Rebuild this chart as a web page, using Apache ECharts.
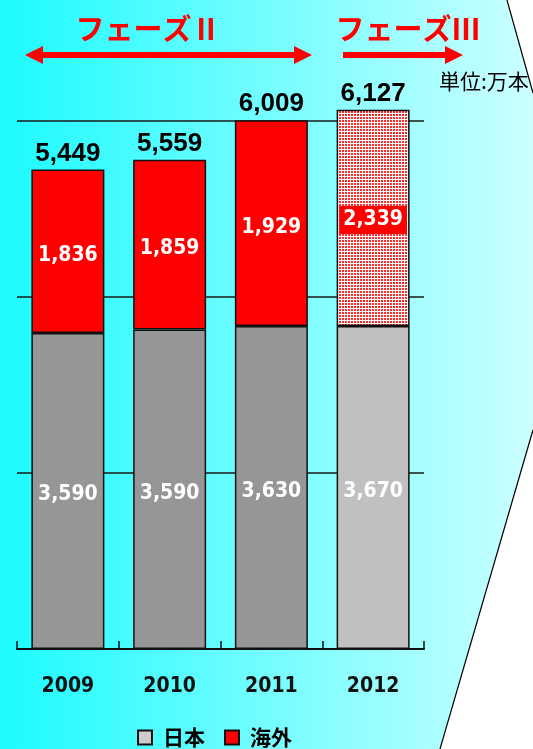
<!DOCTYPE html>
<html><head><meta charset="utf-8">
<script src="https://cdn.jsdelivr.net/npm/echarts@6/dist/echarts.min.js"></script>
<style>html,body{margin:0;padding:0;background:#fff;}#c{width:533px;height:749px;}</style>
</head><body><div id="c"></div>
<script>
// ---- data ----
const years = ['2009', '2010', '2011', '2012'];
const japanValues = [3590, 3630, 3670, 3670];      // bar heights
const overseasValues = [1859, 1929, 2339, 2457];   // bar heights
const japanLabels = ['3,590', '3,590', '3,630', '3,670'];
const overseasLabels = ['1,836', '1,859', '1,929', '2,339'];
const totalLabels = ['5,449', '5,559', '6,009', '6,127'];
const yTicks = [0, 2000, 4000, 6000];
const seriesNames = ['日本', '海外'];
const phaseLabels = ['フェーズⅡ', 'フェーズⅢ'];
const unitLabel = '単位:万本';

// ---- patterns ----
function makePattern(w, h, bg, fg, rects) {
  const c = document.createElement('canvas');
  c.width = w; c.height = h;
  const g = c.getContext('2d');
  g.fillStyle = bg; g.fillRect(0, 0, w, h);
  g.fillStyle = fg;
  rects.forEach(r => g.fillRect(r[0], r[1], r[2], r[3]));
  return c;
}
const redDots = makePattern(3, 3, '#ffffff', '#ff2a2a', [[0, 0, 2, 2]]);
const grayChecker = makePattern(2, 2, '#ffffff', '#9a9a9a', [[0, 0, 1, 1], [1, 1, 1, 1]]);

const chart = echarts.init(document.getElementById('c'), null, { renderer: 'canvas' });

const inLabel = { color: '#ffffff', fontSize: 21, fontWeight: 'bold', fontFamily: 'DejaVu Sans Condensed', offset: [0, 4] };

const option = {
  animation: false,
  backgroundColor: new echarts.graphic.LinearGradient(0, 0, 1, 0, [
    { offset: 0, color: '#1cfbff' },
    { offset: 1, color: '#ccffff' }
  ]),
  grid: { left: 17, right: 109, top: 121, bottom: 100 },
  legend: {
    data: seriesNames,
    left: 132, top: 722,
    itemWidth: 14, itemHeight: 14, itemGap: 19,
    icon: 'rect',
    textStyle: { fontSize: 21, fontWeight: 'bold', color: '#000', fontFamily: 'Noto Sans CJK JP', padding: [0, 0, 0, 6] }
  },
  xAxis: {
    type: 'category',
    data: years,
    boundaryGap: true,
    axisLine: { show: true, lineStyle: { color: '#111', width: 2 } },
    axisTick: { show: true, interval: 0, alignWithLabel: false, inside: true, length: 8, lineStyle: { color: '#111', width: 1.5 } },
    axisLabel: { margin: 27, color: '#111', fontSize: 21, fontWeight: 'bold', fontFamily: 'DejaVu Sans Condensed' }
  },
  yAxis: {
    type: 'value',
    min: yTicks[0], max: yTicks[yTicks.length - 1], interval: yTicks[1] - yTicks[0],
    axisLine: { show: false }, axisTick: { show: false }, axisLabel: { show: false },
    splitLine: { lineStyle: { color: '#1a1a1a', width: 1.5 } }
  },
  series: [
    {
      name: seriesNames[0], type: 'bar', stack: 's', barWidth: 73, clip: false,
      itemStyle: { color: { image: grayChecker, repeat: 'repeat' }, borderColor: '#111', borderWidth: 1.5 },
      data: japanValues.map((v, i) => ({ value: v, itemStyle: { color: i === 3 ? '#c0c0c0' : '#969696' } })),
      label: Object.assign({ show: true, position: 'inside', formatter: p => japanLabels[p.dataIndex] }, inLabel)
    },
    {
      name: seriesNames[1], type: 'bar', stack: 's', barWidth: 73, clip: false,
      itemStyle: { color: '#ff0000', borderColor: '#111', borderWidth: 1.5 },
      data: overseasValues.map((v, i) => i === 3 ? ({
        value: v,
        itemStyle: { color: { image: redDots, repeat: 'repeat' } },
        label: { backgroundColor: '#ff0000', padding: [4, 4, 3, 4], offset: [0, 2] }
      }) : v),
      label: Object.assign({ show: true, position: 'inside', formatter: p => overseasLabels[p.dataIndex] }, inLabel)
    },
    {
      name: 'total', type: 'bar', stack: 's', barWidth: 73, clip: false,
      itemStyle: { color: 'rgba(0,0,0,0)', borderWidth: 0 },
      data: years.map(() => 0),
      label: { show: true, position: 'top', distance: 3, formatter: p => totalLabels[p.dataIndex],
        color: '#000', fontSize: 26, fontWeight: 'bold', fontFamily: 'Liberation Sans' }
    }
  ],
  graphic: [
    { type: 'polygon', silent: true, shape: { points: [[507, 0], [533, 0], [533, 93]] }, style: { fill: '#fff' } },
    { type: 'polyline', silent: true, shape: { points: [[507, 0], [533, 93]] }, style: { stroke: '#000', lineWidth: 1.2 } },
    { type: 'polygon', silent: true, shape: { points: [[533, 430], [533, 749], [440, 749]] }, style: { fill: '#fff' } },
    { type: 'polyline', silent: true, shape: { points: [[533, 430], [440, 749]] }, style: { stroke: '#000', lineWidth: 1.2 } },
    { type: 'text', silent: true, x: 148, y: 29, style: { text: phaseLabels[0], fill: '#ff0000', align: 'center', verticalAlign: 'middle', font: 'bold 29px "Noto Sans CJK JP"' } },
    { type: 'text', silent: true, x: 408, y: 29, style: { text: phaseLabels[1], fill: '#ff0000', align: 'center', verticalAlign: 'middle', font: 'bold 29px "Noto Sans CJK JP"' } },
    { type: 'rect', silent: true, shape: { x: 40, y: 52, width: 258, height: 6 }, style: { fill: '#ff0000' } },
    { type: 'polygon', silent: true, shape: { points: [[25, 55], [43, 46], [43, 64]] }, style: { fill: '#ff0000' } },
    { type: 'polygon', silent: true, shape: { points: [[312, 55], [294, 46], [294, 64]] }, style: { fill: '#ff0000' } },
    { type: 'rect', silent: true, shape: { x: 343, y: 52, width: 105, height: 6 }, style: { fill: '#ff0000' } },
    { type: 'polygon', silent: true, shape: { points: [[463, 55], [445, 46], [445, 64]] }, style: { fill: '#ff0000' } },
    { type: 'text', silent: true, x: 439, y: 81, style: { text: unitLabel, fill: '#000', align: 'left', verticalAlign: 'middle', font: '21px "Noto Sans CJK JP"' } }
  ]
};
chart.setOption(option);
</script>
</body></html>
